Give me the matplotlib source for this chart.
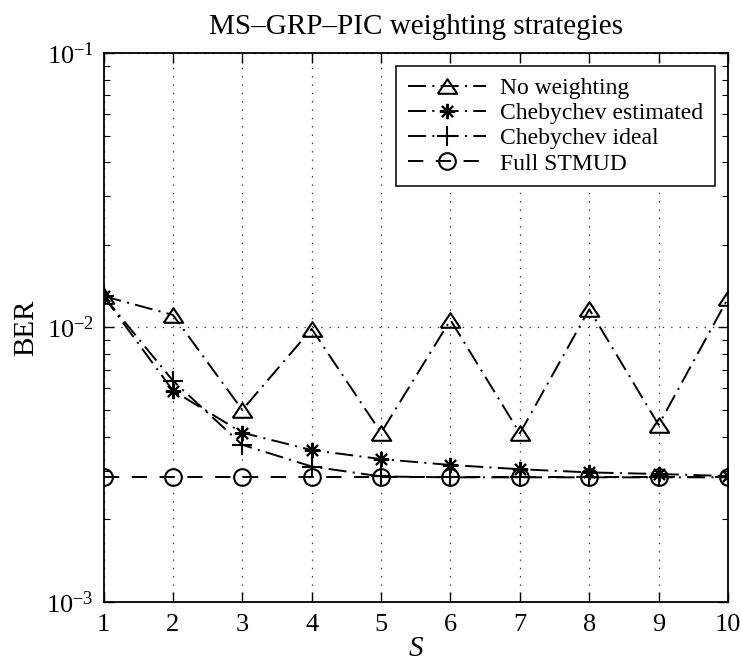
import numpy as np
import matplotlib
matplotlib.use('Agg')
import matplotlib.pyplot as plt
from matplotlib.ticker import LogLocator, NullFormatter

S = [1, 2, 3, 4, 5, 6, 7, 8, 9, 10]
ber_noweight = [1.30e-2, 1.11e-2, 5.0e-3, 9.87e-3, 4.13e-3, 1.064e-2, 4.11e-3, 1.164e-2, 4.41e-3, 1.276e-2]
ber_cheb_est = [1.30e-2, 5.88e-3, 4.13e-3, 3.57e-3, 3.31e-3, 3.15e-3, 3.04e-3, 2.96e-3, 2.92e-3, 2.87e-3]
ber_cheb_ideal = [1.30e-2, 6.39e-3, 3.73e-3, 3.11e-3, 2.86e-3, 2.84e-3, 2.84e-3, 2.84e-3, 2.84e-3, 2.84e-3]
ber_full = [2.84e-3] * 10

plt.rcParams['font.family'] = ['Liberation Serif', 'DejaVu Serif']
plt.rcParams['mathtext.fontset'] = 'custom'
plt.rcParams['mathtext.rm'] = 'Liberation Serif'
plt.rcParams['mathtext.it'] = 'Liberation Serif:italic'
plt.rcParams['lines.scale_dashes'] = False

dashdot = (0, (13, 4.5, 1.5, 4.5))
dashed = (0, (11, 9))

# wide, flat triangle like the MATLAB '^'
tri = [(-1, -0.75), (1, -0.75), (0, 0.75), (-1, -0.75)]

fig = plt.figure(figsize=(7.41, 6.65), dpi=100)
ax = fig.add_axes([0.1397, 0.0952, 0.8428, 0.8251])

ax.semilogy(S, ber_noweight, color='k', ls=dashdot, marker=tri, mfc='none', ms=14, mew=1.5, lw=1.4, label='No weighting')
ax.semilogy(S, ber_cheb_est, color='k', ls=dashdot, marker=(8, 2, 0), ms=11, mew=1.5, lw=1.4, label='Chebychev estimated')
ax.semilogy(S, ber_cheb_ideal, color='k', ls=dashdot, marker='+', ms=14, mew=1.5, lw=1.4, label='Chebychev ideal')
ax.semilogy(S, ber_full, color='k', ls=dashed, marker='o', mfc='none', ms=12, mew=1.5, lw=1.4, label='Full STMUD')

ax.set_xlim(1, 10)
ax.set_ylim(1e-3, 1e-1)
ax.set_xticks(S)
ax.yaxis.set_major_locator(LogLocator(base=10, numticks=5))
ax.yaxis.set_minor_locator(LogLocator(base=10, subs=np.arange(2, 10), numticks=20))
ax.yaxis.set_minor_formatter(NullFormatter())

ax.grid(True, which='major', ls=(0, (1, 5)), color='k', lw=0.9, alpha=0.8)
ax.tick_params(which='both', direction='in', top=True, right=True, labelsize=19)
ax.tick_params(which='major', length=7, width=1.0)
ax.tick_params(which='minor', length=4, width=0.8)
ax.tick_params(axis='x', pad=9)
ax.tick_params(axis='y', pad=7)
for sp in ax.spines.values():
    sp.set_linewidth(1.3)

ax.set_title('MS\u2013GRP\u2013PIC weighting strategies', fontsize=21, pad=14)
ax.set_xlabel('$S$', fontsize=21, labelpad=0)
ax.set_ylabel('BER', fontsize=21, labelpad=5)

leg = ax.legend(loc='upper right', fontsize=17, fancybox=False, edgecolor='k',
                framealpha=1, handlelength=3.3, handletextpad=0.6,
                borderaxespad=0.55, borderpad=0.5, labelspacing=0.15)
leg.get_frame().set_linewidth(1.1)

fig.savefig('out.png', dpi=100)
